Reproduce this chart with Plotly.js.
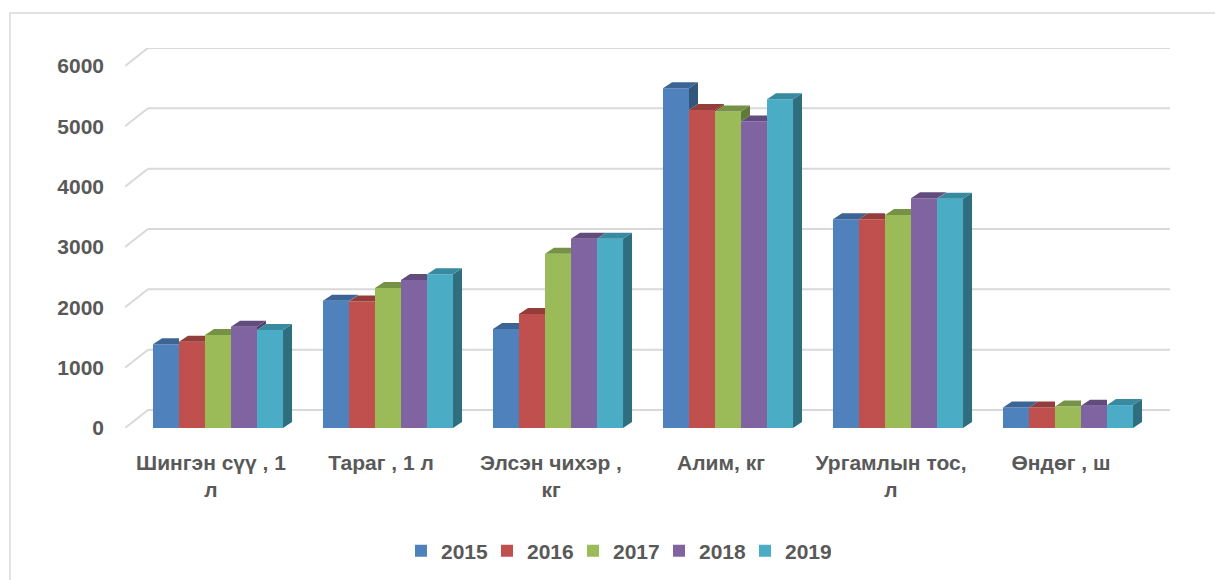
<!DOCTYPE html>
<html>
<head>
<meta charset="utf-8">
<script src="https://cdn.plot.ly/plotly-3.0.1.min.js"></script>
<style>html,body{margin:0;padding:0;background:#fff;}#chart{width:1215px;height:580px;}</style>
</head>
<body>
<div id="chart"></div>
<script>
// ---- data ----
const categories = ["Шингэн сүү , 1<br>л", "Тараг , 1 л", "Элсэн чихэр ,<br>кг", "Алим, кг", "Ургамлын тос,<br>л", "Өндөг , ш"];
const years = ["2015", "2016", "2017", "2018", "2019"];
const v2015 = [1390, 2110, 1640, 5630, 3460, 340];
const v2016 = [1430, 2095, 1890, 5270, 3460, 340];
const v2017 = [1540, 2320, 2890, 5245, 3530, 355];
const v2018 = [1680, 2455, 3135, 5080, 3810, 370];
const v2019 = [1625, 2550, 3135, 5450, 3800, 380];
const yTicks = [0, 1000, 2000, 3000, 4000, 5000, 6000];

const series = [v2015, v2016, v2017, v2018, v2019];
const colors = ["#4F81BD", "#C0504D", "#9BBB59", "#8064A2", "#4BACC6"];
const topColors = ["#3C6596", "#943E3C", "#769245", "#624C7E", "#378AA0"];
const sideColors = ["#33567F", "#7E3533", "#627A39", "#523F69", "#2F6E7E"];

const W = 1215, H = 580;
// front plane (bars) in pixels
const fx0 = 133, fx1 = 1153, fyTop = 66, fyBot = 428;
// back wall offset
const dx = 15, dyWall = 18, diagLeft = 8;
const bargap = 0.235;
const yMax = 6000;
const nCat = categories.length;
const catPx = (fx1 - fx0) / nCat;
const pxPerY = (fyBot - fyTop) / yMax;
const bw = (1 - bargap) / years.length;
const bwPx = bw * catPx;
const depthX = 9, depthYpx = 6;
const depthY = depthYpx / pxPerY;
// full plot area (front plane + wall)
const px0 = fx0 - diagLeft, px1 = fx1 + dx + 2, pyTop = fyTop - dyWall, pyBot = fyBot;
const xRange = [-0.5 - diagLeft / catPx, nCat - 0.5 + (dx + 2) / catPx];
const yRange = [0, yMax + dyWall / pxPerY];

const font = "Liberation Sans, Arial, sans-serif";
const textColor = "#595959";

const traces = [];
years.forEach((yr, k) => {
  traces.push({
    type: "bar", name: yr, x: categories, y: series[k],
    marker: {color: colors[k], line: {width: 0}},
    hoverinfo: "x+y+name"
  });
});

const shapes = [];
// chart border
shapes.push({type: "rect", xref: "paper", yref: "paper", x0: 10 / W, x1: 1.02, y0: -0.02, y1: (H - 13) / H,
  line: {color: "#D9D9D9", width: 1.5}, fillcolor: "rgba(0,0,0,0)", layer: "below"});
// back-wall gridlines and diagonal wall ticks
yTicks.forEach(v => {
  shapes.push({type: "line", xref: "x", yref: "y", xsizemode: "pixel", ysizemode: "pixel",
    xanchor: -0.5, yanchor: v, x0: -diagLeft, x1: dx, y0: 0, y1: dyWall,
    line: {color: "#D9D9D9", width: 2}, layer: "below"});
  shapes.push({type: "line", xref: "x", yref: "y", xsizemode: "pixel", ysizemode: "pixel",
    xanchor: -0.5, yanchor: v, x0: dx, x1: (fx1 - fx0) + dx + 2, y0: dyWall, y1: dyWall,
    line: {color: "#D9D9D9", width: 2}, layer: "below"});
});
// 3D faces
categories.forEach((c, i) => {
  for (let k = 0; k < years.length; k++) {
    const h = series[k][i];
    const right = i - (1 - bargap) / 2 + (k + 1) * bw;
    const last = k === years.length - 1;
    const nextH = last ? 0 : series[k + 1][i];
    const low = last ? 0 : nextH;
    if (last || nextH < h) {
      shapes.push({type: "path", xref: "x", yref: "y", xsizemode: "pixel", xanchor: right,
        path: `M 0,${low} L ${depthX},${low + depthY} L ${depthX},${h + depthY} L 0,${h} Z`,
        fillcolor: sideColors[k], line: {width: 0}, layer: "above"});
    }
    let path;
    if (!last && nextH > h) {
      path = `M ${-bwPx},0 L 0,0 L 0,${depthYpx} L ${-bwPx + depthX},${depthYpx} Z`;
    } else {
      path = `M ${-bwPx},0 L 0,0 L ${depthX},${depthYpx} L ${-bwPx + depthX},${depthYpx} Z`;
    }
    shapes.push({type: "path", xref: "x", yref: "y", xsizemode: "pixel", ysizemode: "pixel",
      xanchor: right, yanchor: h, path: path,
      fillcolor: topColors[k], line: {width: 0}, layer: "above"});
  }
});

const layout = {
  width: W, height: H,
  margin: {l: 0, r: 0, t: 0, b: 0},
  paper_bgcolor: "#FFFFFF", plot_bgcolor: "rgba(0,0,0,0)",
  font: {family: font, color: textColor, size: 21},
  barmode: "group", bargap: bargap, bargroupgap: 0,
  showlegend: true,
  legend: {orientation: "h", x: 0.507, xanchor: "center", y: (H - 551) / H, yanchor: "middle",
    font: {family: font, size: 21, color: textColor, weight: "bold"}, itemwidth: 30, traceorder: "normal",
    entrywidth: 41, entrywidthmode: "pixels"},
  xaxis: {domain: [px0 / W, px1 / W], anchor: "y", type: "category", range: xRange,
    showgrid: false, zeroline: false, showline: false, ticks: "",
    tickfont: {family: font, size: 21, color: textColor, weight: "bold"}, ticklabelstandoff: 20,
    ticklabelshift: -7, fixedrange: true},
  yaxis: {domain: [(H - pyBot) / H, (H - pyTop) / H], anchor: "x", range: yRange, tickvals: yTicks,
    showgrid: false, zeroline: false, showline: false, ticks: "",
    tickfont: {family: font, size: 21, color: textColor, weight: "bold"}, ticklabelstandoff: 20, fixedrange: true},
  shapes: shapes
};

Plotly.newPlot("chart", traces, layout, {displayModeBar: false, staticPlot: true});
</script>
</body>
</html>
